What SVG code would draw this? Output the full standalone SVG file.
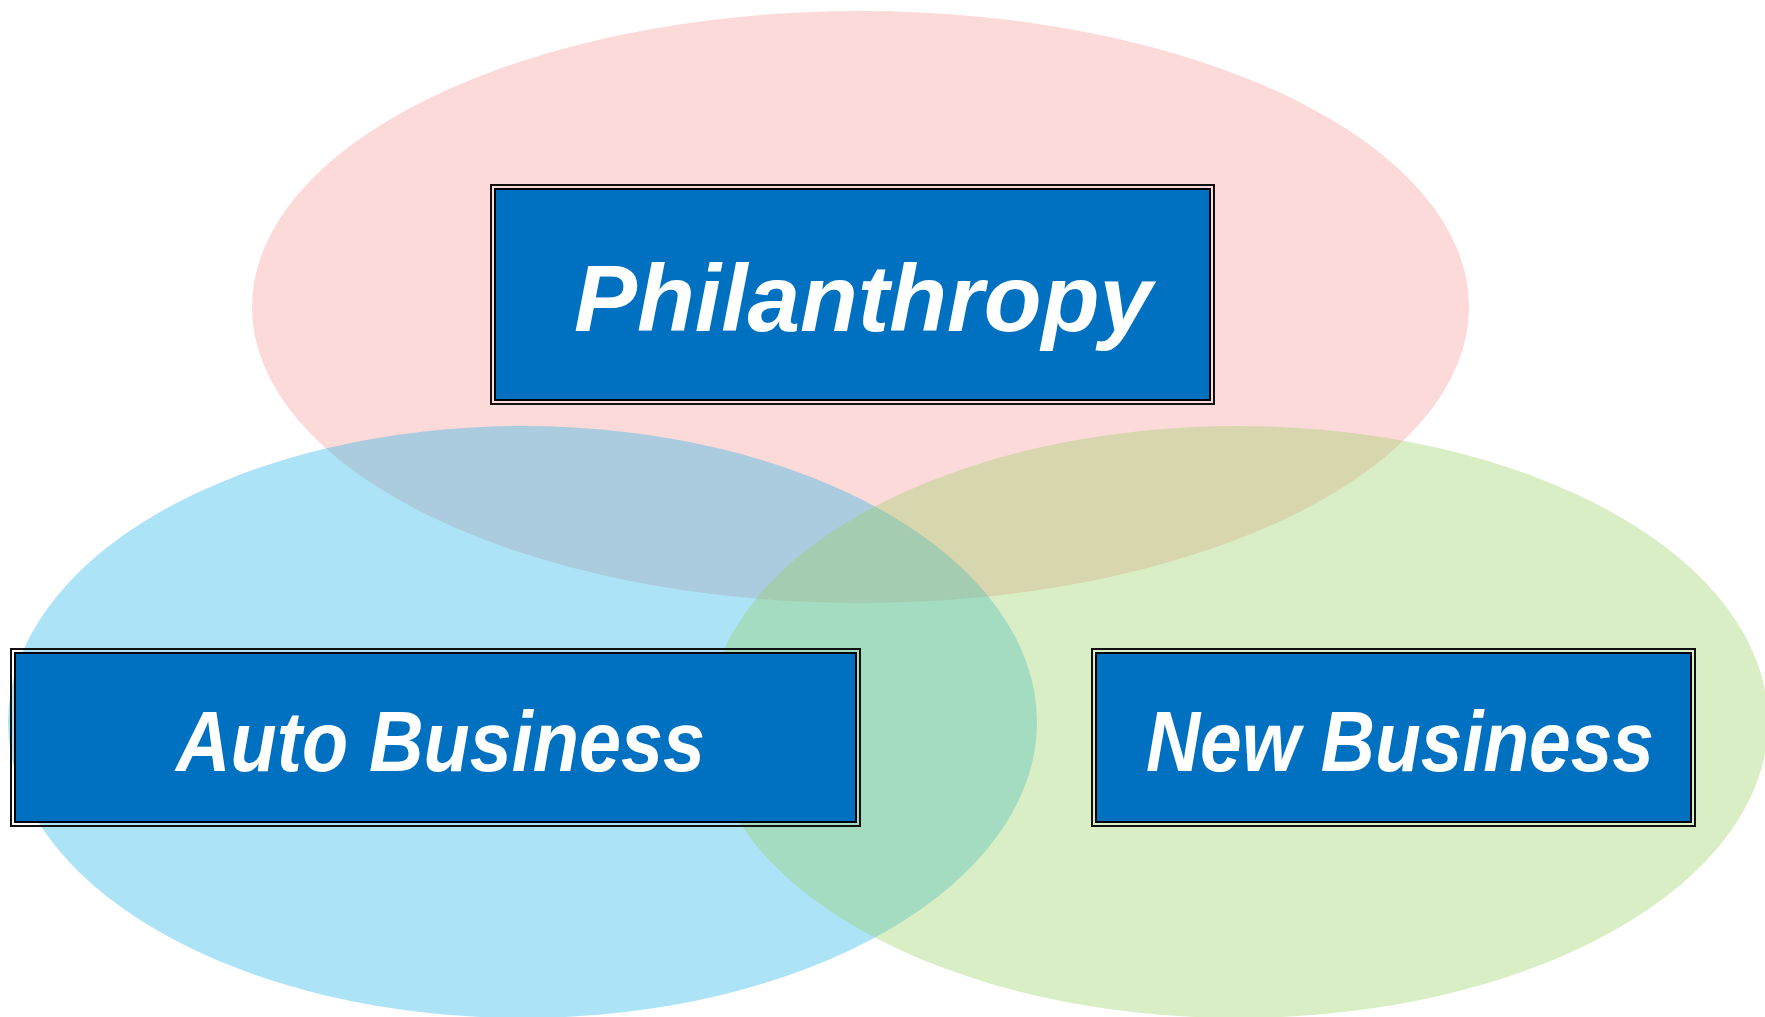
<svg xmlns="http://www.w3.org/2000/svg" width="1765" height="1017" viewBox="0 0 1765 1017">
  <style>
    .set { opacity: 0.35; }
    .outer { fill: none; stroke: #111111; stroke-width: 2; }
    .inner { fill: #0070C0; stroke: #000000; stroke-width: 2; }
    .label { font-family: "Liberation Sans", Arial, sans-serif; font-weight: bold; font-style: italic; fill: #FFFFFF; }
  </style>
  <rect width="1765" height="1017" fill="#FFFFFF"/>
  <g id="sets">
    <ellipse id="set-philanthropy" class="set" cx="860.5" cy="307" rx="608.5" ry="296" fill="#F69595"/>
    <ellipse id="set-auto" class="set" cx="522.5" cy="722" rx="514.5" ry="296" fill="#15AFE8"/>
    <ellipse id="set-new" class="set" cx="1238" cy="722" rx="530" ry="296" fill="#95CE5C"/>
  </g>
  <g id="node-philanthropy">
    <rect class="outer" x="491" y="185" width="723" height="219"/>
    <rect class="inner" x="495" y="189" width="715" height="211"/>
    <text class="label" x="574" y="331" font-size="95" textLength="578" lengthAdjust="spacingAndGlyphs">Philanthropy</text>
  </g>
  <g id="node-auto-business">
    <rect class="outer" x="11" y="649" width="849" height="177"/>
    <rect class="inner" x="15" y="653" width="841" height="169"/>
    <text class="label" x="176" y="771" font-size="85" textLength="529" lengthAdjust="spacingAndGlyphs">Auto Business</text>
  </g>
  <g id="node-new-business">
    <rect class="outer" x="1092" y="649" width="603" height="177"/>
    <rect class="inner" x="1096" y="653" width="595" height="169"/>
    <text class="label" x="1146" y="771" font-size="85" textLength="508" lengthAdjust="spacingAndGlyphs">New Business</text>
  </g>
</svg>
